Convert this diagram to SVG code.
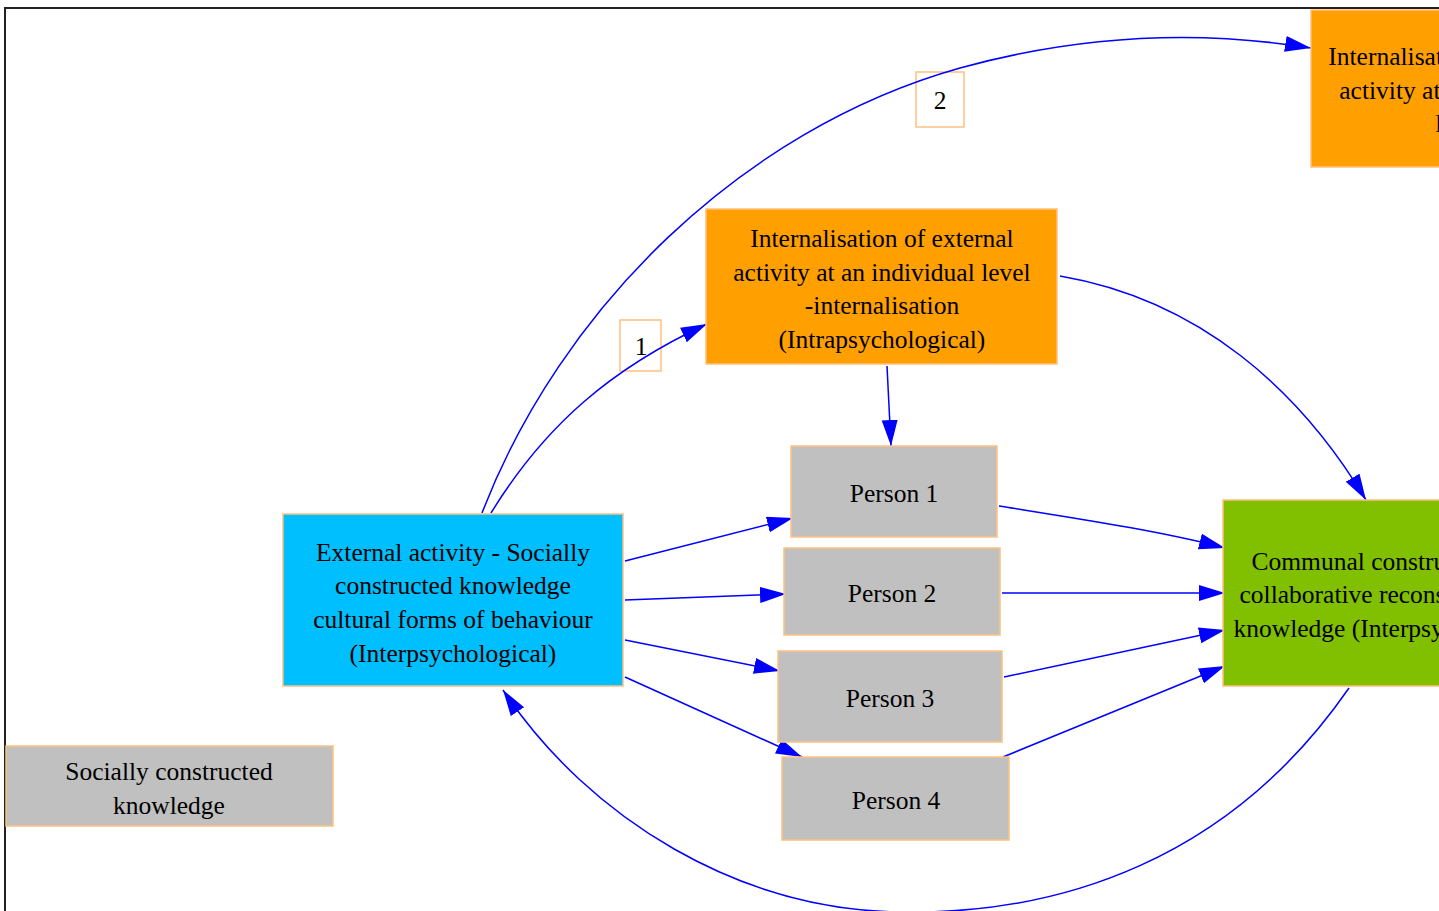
<svg xmlns="http://www.w3.org/2000/svg" width="1439" height="911" viewBox="0 0 1439 911">
  <style>
    .box { stroke: #ffc080; stroke-width: 1.5; }
    .orange { fill: #ffa000; }
    .blue { fill: #00bfff; }
    .grey { fill: #c0c0c0; }
    .green { fill: #80c000; }
    .lbl { fill: #ffffff; stroke: #ffc080; stroke-width: 1.5; }
    text { font-family: "Liberation Serif", "Times New Roman", serif; font-size: 25.5px; fill: #000; text-anchor: middle; dominant-baseline: central; }
    .edge { fill: none; stroke: #0000ff; stroke-width: 1.5; marker-end: url(#arrow); }
  </style>
  <defs>
    <marker id="arrow" markerUnits="userSpaceOnUse" markerWidth="28" markerHeight="18" refX="26" refY="8" orient="auto">
      <path d="M0,0 L26,8 L0,16 z" fill="#0000ff"/>
    </marker>
  </defs>

  <rect width="1439" height="911" fill="#ffffff"/>
  <!-- outer frame -->
  <path d="M5,911 L5,8 L1439,8" fill="none" stroke="#222" stroke-width="2"/>

  <!-- edge labels sit under the connectors -->
  <g id="label-1">
    <rect class="lbl" x="620" y="320" width="41" height="51"/>
    <text x="641" y="346">1</text>
  </g>
  <g id="label-2">
    <rect class="lbl" x="916" y="72" width="48" height="55"/>
    <text x="940" y="100">2</text>
  </g>

  <g id="connectors">
    <path class="edge" d="M491,513 C545,425 612,368 707,324"/>
    <path class="edge" d="M482,513 C560,310 740,130 960,68 C1080,35 1200,30 1311,48"/>
    <path class="edge" d="M887,366 L891,446"/>
    <path class="edge" d="M1060,276 C1200,300 1300,390 1366,500"/>
    <path class="edge" d="M625,561 L793,518"/>
    <path class="edge" d="M625,600 L786,594"/>
    <path class="edge" d="M625,640 L780,671"/>
    <path class="edge" d="M625,677 L802,757"/>
    <path class="edge" d="M999,506 C1080,519 1160,531 1225,548"/>
    <path class="edge" d="M1002,593 L1225,593"/>
    <path class="edge" d="M1004,677 L1225,630"/>
    <path class="edge" d="M1003,757 L1225,666"/>
    <path class="edge" d="M1349,688 C1230,860 1060,915 900,912 C740,910 590,820 503,690"/>
  </g>

  <g id="node-internal-group">
    <rect class="box orange" x="1311" y="10" width="298" height="157"/>
    <text x="1460" y="56">Internalisation of external</text>
    <text x="1460" y="90">activity at a community</text>
    <text x="1460" y="123">level</text>
  </g>

  <g id="node-internal-individual">
    <rect class="box orange" x="706" y="209" width="351" height="155"/>
    <text x="882" y="238">Internalisation of external</text>
    <text x="882" y="272">activity at an individual level</text>
    <text x="882" y="305">-internalisation</text>
    <text x="882" y="339">(Intrapsychological)</text>
  </g>

  <g id="node-external">
    <rect class="box blue" x="283" y="514" width="340" height="172"/>
    <text x="453" y="552">External activity -  Socially</text>
    <text x="453" y="585">constructed knowledge</text>
    <text x="453" y="619">cultural forms of behaviour</text>
    <text x="453" y="653">(Interpsychological)</text>
  </g>

  <g id="node-person1">
    <rect class="box grey" x="791" y="446" width="206" height="91"/>
    <text x="894" y="493">Person 1</text>
  </g>
  <g id="node-person2">
    <rect class="box grey" x="784" y="548" width="216" height="87"/>
    <text x="892" y="593">Person 2</text>
  </g>
  <g id="node-person3">
    <rect class="box grey" x="778" y="651" width="224" height="91"/>
    <text x="890" y="698">Person 3</text>
  </g>
  <g id="node-person4">
    <rect class="box grey" x="782" y="757" width="227" height="83"/>
    <text x="896" y="800">Person 4</text>
  </g>

  <g id="node-communal">
    <rect class="box green" x="1223" y="500" width="346" height="186"/>
    <text x="1396" y="561">Communal construction and</text>
    <text x="1396" y="594">collaborative reconstruction of</text>
    <text x="1396" y="628">knowledge (Interpsychological)</text>
  </g>

  <g id="node-legend">
    <rect class="box grey" x="6" y="746" width="327" height="80"/>
    <text x="169" y="771">Socially constructed</text>
    <text x="169" y="805">knowledge</text>
  </g>
</svg>
